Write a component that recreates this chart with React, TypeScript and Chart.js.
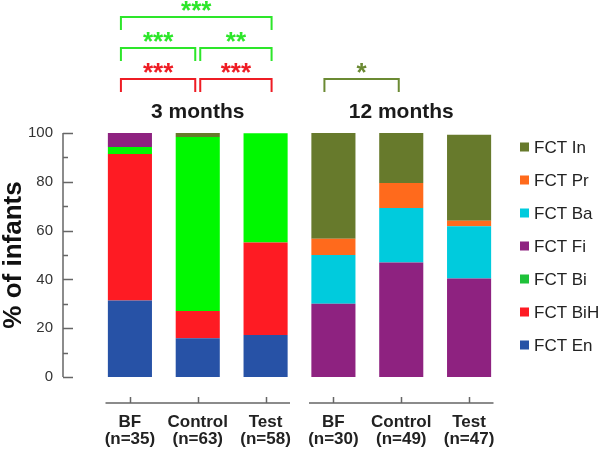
import React, { useEffect, useRef } from 'react';
import { Chart, registerables } from 'chart.js';

Chart.register(...registerables);

// ---- data ----
const categories: string[][] = [
  ['BF', '(n=35)'],
  ['Control', '(n=63)'],
  ['Test', '(n=58)'],
  ['BF', '(n=30)'],
  ['Control', '(n=49)'],
  ['Test', '(n=47)'],
];
const groupTitles = ['3 months', '12 months'];
const groupMembers = [[0, 1, 2], [3, 4, 5]];

const fctEn = [31.4, 15.9, 17.2, 0, 0, 0];
const fctBiH = [60.0, 11.1, 37.9, 0, 0, 0];
const fctBi = [2.9, 71.4, 44.8, 0, 0, 0];
const fctFi = [5.7, 0, 0, 30.0, 46.9, 40.4];
const fctBa = [0, 0, 0, 20.0, 22.4, 21.4];
const fctPr = [0, 0, 0, 6.7, 10.2, 2.2];
const fctIn = [0, 1.6, 0, 43.3, 20.5, 35.3];

const seriesNames = ['FCT En', 'FCT BiH', 'FCT Bi', 'FCT Fi', 'FCT Ba', 'FCT Pr', 'FCT In'];
const seriesValues = [fctEn, fctBiH, fctBi, fctFi, fctBa, fctPr, fctIn];
const barColors = ['#2752a6', '#fe1b23', '#00f800', '#8e2280', '#00cbdd', '#ff6a1c', '#677a2c'];
const legendColors = ['#2752a6', '#fe1b23', '#1fc23a', '#8e2280', '#00cbdd', '#ff6a1c', '#677a2c'];

const yMajorTicks = [0, 20, 40, 60, 80, 100];
const yMinorTicks = [10, 30, 50, 70, 90];

// significance brackets: from/to category index, stacking level, label, colour
const bracketFrom = [0, 1, 0, 1, 0, 3];
const bracketTo = [1, 2, 1, 2, 2, 4];
const bracketLevel = [0, 0, 1, 1, 2, 0];
const bracketLabel = ['***', '***', '***', '**', '***', '*'];
const bracketColor = ['#ee1c24', '#ee1c24', '#2de62a', '#2de62a', '#2de62a', '#6b8a33'];

const FONT = "'Liberation Sans', Arial, Helvetica, sans-serif";

const overlayPlugin = {
  id: 'overlay',
  afterDraw(chart: any) {
    const { ctx, chartArea: ca, scales } = chart;
    const xs = scales.x;
    const ys = scales.y;
    const px = (i: number) => xs.getPixelForValue(i);
    const cw = px(1) - px(0);
    ctx.save();

    // y axis line with inward ticks
    const ax = ca.left - 33;
    ctx.strokeStyle = '#666';
    ctx.lineWidth = 1.5;
    ctx.beginPath();
    ctx.moveTo(ax, ys.getPixelForValue(0));
    ctx.lineTo(ax, ys.getPixelForValue(100));
    ctx.stroke();
    ctx.beginPath();
    yMajorTicks.forEach((v) => {
      const py = Math.round(ys.getPixelForValue(v)) + 0.5;
      ctx.moveTo(ax, py);
      ctx.lineTo(ax + 10, py);
    });
    yMinorTicks.forEach((v) => {
      const py = Math.round(ys.getPixelForValue(v)) + 0.5;
      ctx.moveTo(ax, py);
      ctx.lineTo(ax + 5, py);
    });
    ctx.stroke();

    // x axis segments per group
    const lineY = ca.bottom + 26;
    groupMembers.forEach((members) => {
      const first = px(members[0]);
      const last = px(members[members.length - 1]);
      ctx.beginPath();
      ctx.moveTo(first - 0.36 * cw, lineY);
      ctx.lineTo(last + 0.36 * cw, lineY);
      members.forEach((i) => {
        const p = Math.round(px(i)) + 0.5;
        ctx.moveTo(p, lineY);
        ctx.lineTo(p, lineY - 6);
      });
      ctx.stroke();
    });

    // group titles
    ctx.fillStyle = '#1a1a1a';
    ctx.font = `bold 21px ${FONT}`;
    ctx.textAlign = 'center';
    ctx.textBaseline = 'middle';
    groupMembers.forEach((members, g) => {
      const mid = px(members[Math.floor(members.length / 2)]);
      ctx.fillText(groupTitles[g], mid, ca.top - 21);
    });

    // brackets
    const isGroupEdgeLeft = (i: number) => groupMembers.some((m) => m[0] === i);
    const isGroupEdgeRight = (i: number) => groupMembers.some((m) => m[m.length - 1] === i);
    ctx.lineWidth = 2;
    bracketFrom.forEach((from, k) => {
      const to = bracketTo[k];
      const x1 = isGroupEdgeLeft(from) ? px(from) - 9 : px(from) + 2.5;
      const x2 = isGroupEdgeRight(to) ? px(to) + 6 : px(to) - 2.5;
      const rowY = ca.top - 54 - bracketLevel[k] * 31;
      ctx.strokeStyle = bracketColor[k];
      ctx.beginPath();
      ctx.moveTo(x1, rowY + 13);
      ctx.lineTo(x1, rowY);
      ctx.lineTo(x2, rowY);
      ctx.lineTo(x2, rowY + 13);
      ctx.stroke();
      ctx.fillStyle = bracketColor[k];
      ctx.font = `bold 26px ${FONT}`;
      ctx.textBaseline = 'alphabetic';
      ctx.textAlign = 'center';
      ctx.fillText(bracketLabel[k], (x1 + x2) / 2, rowY + 2);
    });

    // legend (top to bottom = reverse stacking order)
    ctx.font = `17px ${FONT}`;
    ctx.textAlign = 'left';
    ctx.textBaseline = 'middle';
    const order = seriesNames.map((_, i) => i).reverse();
    order.forEach((si, row) => {
      const cy = ca.top + 14 + row * 33;
      const bx = ca.right + 17;
      ctx.fillStyle = legendColors[si];
      ctx.fillRect(bx, cy - 4.5, 9, 9);
      ctx.fillStyle = '#222';
      ctx.fillText(seriesNames[si], bx + 14, cy + 1);
    });

    ctx.restore();
  },
};

export default function App() {
  const canvasRef = useRef<HTMLCanvasElement | null>(null);

  useEffect(() => {
    if (!canvasRef.current) return;
    Chart.defaults.font.family = FONT;
    const chart = new Chart(canvasRef.current, {
      type: 'bar',
      data: {
        labels: categories,
        datasets: seriesNames.map((name, i) => ({
          label: name,
          data: seriesValues[i],
          backgroundColor: barColors[i],
          borderWidth: 0,
          categoryPercentage: 1,
          barPercentage: 0.65,
        })),
      },
      options: {
        responsive: false,
        animation: false,
        layout: { padding: { left: 0, right: 97, top: 133, bottom: 0 } },
        plugins: {
          legend: { display: false },
          tooltip: { enabled: false },
          title: { display: false },
        },
        scales: {
          x: {
            stacked: true,
            grid: { display: false, drawTicks: false },
            border: { display: false },
            afterFit: (scale: any) => {
              scale.height = 76;
            },
            ticks: {
              color: '#222',
              font: { size: 17, weight: 'bold', lineHeight: 1.05, family: FONT },
              padding: 36,
              maxRotation: 0,
              autoSkip: false,
            },
          },
          y: {
            stacked: true,
            min: 0,
            max: 100,
            grid: { display: false, drawTicks: false },
            border: { display: false },
            afterFit: (scale: any) => {
              scale.width = 96;
            },
            ticks: {
              stepSize: 20,
              color: '#333',
              font: { size: 15, family: FONT },
              padding: 43,
            },
            title: {
              display: true,
              text: '% of infants',
              color: '#111',
              font: { size: 26, weight: 'bold', lineHeight: 1.08, family: FONT },
              padding: { top: 0, bottom: 0 },
            },
          },
        },
      },
      plugins: [overlayPlugin],
    });
    return () => chart.destroy();
  }, []);

  return (
    <div style={{ position: 'absolute', left: 0, top: 0, width: 600, height: 453, background: '#fff' }}>
      <canvas ref={canvasRef} width={600} height={453} />
    </div>
  );
}
